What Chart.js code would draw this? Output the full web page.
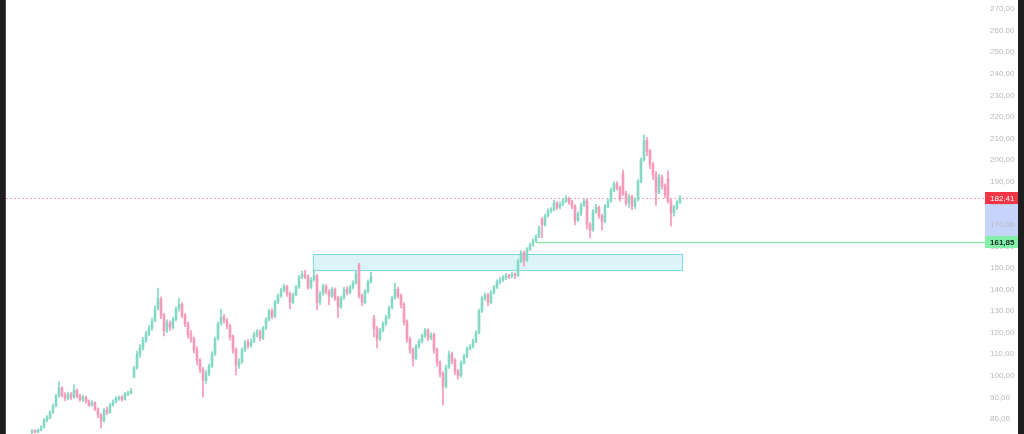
<!DOCTYPE html>
<html>
<head>
<meta charset="utf-8">
<script src="https://cdn.jsdelivr.net/npm/chart.js@4.4.0/dist/chart.umd.min.js"></script>
<style>
  html, body { margin:0; padding:0; background:#1e1e1e; overflow:hidden; }
  #frame { position:absolute; left:5px; top:0; width:1013px; height:434px; background:#fff; border-left:1px solid #4a4a4a; box-sizing:border-box; }
  #box { position:relative; width:1012px; height:434px; }
</style>
</head>
<body>
<div id="frame"><div id="box"><canvas id="chart"></canvas></div></div>
<script>
// candles (one per ~3px)
const opens = [
  73.8, 74.6, 74.0, 74.9, 76.2, 79.3, 80.6, 83.2, 86.2, 90.7,
  94.3, 91.2, 89.4, 91.6, 90.1, 93.2, 90.6, 89.1, 90.1, 88.1,
  86.4, 87.6, 84.6, 81.8, 79.2, 84.2, 83.1, 86.6, 88.1, 89.4,
  90.2, 89.1, 91.4, 92.1, 99.5, 103.8, 110.2, 113.1, 116.6, 119.4,
  122.2, 125.7, 131.2, 135.5, 128.2, 121.2, 124.6, 122.4, 126.1, 131.1,
  133.2, 128.1, 124.2, 119.1, 117.2, 112.1, 107.2, 103.1, 97.8, 101.1,
  104.6, 110.1, 117.2, 124.1, 127.2, 125.6, 123.1, 118.2, 112.1, 104.8,
  106.6, 112.1, 115.6, 114.1, 116.1, 119.1, 120.6, 117.4, 122.1, 126.1,
  130.2, 127.6, 134.1, 137.1, 139.6, 141.4, 138.1, 134.1, 137.6, 141.1,
  145.6, 147.2, 146.1, 141.1, 144.6, 146.2, 134.1, 138.1, 141.6, 139.1,
  137.1, 140.1, 136.1, 132.1, 136.1, 140.1, 138.6, 141.1, 143.1, 151.5,
  137.1, 134.1, 139.1, 143.6, 126.5, 122.1, 117.1, 121.1, 124.1, 127.1,
  131.6, 136.1, 140.1, 137.1, 133.1, 125.1, 117.1, 112.1, 108.1, 113.6,
  116.1, 118.6, 121.1, 117.6, 119.1, 112.1, 106.1, 101.1, 95.1, 104.1,
  110.1, 107.1, 102.1, 100.1, 106.1, 109.1, 112.6, 113.6, 116.1, 120.1,
  130.1, 136.1, 137.6, 134.1, 138.6, 141.1, 143.6, 144.6, 145.6, 146.6,
  146.1, 147.1, 146.6, 153.1, 157.1, 153.6, 158.6, 160.6, 162.6, 164.6,
  172.5, 170.1, 174.1, 176.6, 177.1, 180.1, 178.1, 179.6, 181.1, 182.1,
  180.6, 178.6, 172.1, 175.1, 179.1, 181.1, 170.1, 167.6, 176.1, 178.1,
  174.1, 171.6, 178.6, 181.1, 186.1, 189.1, 187.1, 193.5, 184.6, 180.1,
  183.1, 178.6, 181.6, 190.1, 200.1, 209.1, 204.1, 198.1, 193.1, 185.1,
  192.1, 188.1, 191.5, 181.1, 175.6, 178.1, 180.6
];
const highs = [
  75.2, 75.0, 75.3, 76.8, 80.2, 81.6, 83.8, 86.9, 91.4, 97.2,
  95.0, 92.3, 92.5, 92.2, 96.0, 94.0, 91.5, 91.0, 90.6, 88.9,
  88.5, 88.0, 85.2, 82.5, 85.0, 85.5, 87.4, 88.9, 90.4, 90.8,
  90.9, 92.4, 93.0, 94.2, 104.5, 111.5, 114.5, 117.8, 120.8, 123.4,
  126.8, 132.4, 140.7, 136.5, 129.0, 126.0, 125.5, 127.2, 132.0, 136.0,
  134.0, 129.0, 125.0, 121.0, 118.0, 113.5, 108.0, 104.0, 102.5, 105.5,
  111.2, 118.0, 125.0, 131.0, 128.5, 126.5, 124.0, 119.0, 113.0, 108.0,
  113.0, 116.5, 116.8, 117.0, 120.2, 121.5, 121.2, 123.0, 127.0, 131.0,
  131.2, 135.0, 138.0, 140.6, 142.5, 142.0, 138.8, 138.5, 142.0, 146.6,
  148.5, 149.0, 146.8, 145.6, 149.1, 147.0, 139.0, 142.5, 142.3, 140.0,
  141.0, 140.8, 136.8, 137.0, 141.0, 141.2, 142.0, 144.0, 148.5, 152.3,
  138.0, 140.0, 144.5, 148.0, 128.0, 123.0, 122.0, 125.0, 128.0, 132.5,
  137.0, 143.0, 141.0, 138.0, 134.0, 126.0, 118.0, 113.0, 114.5, 117.0,
  119.5, 122.0, 121.8, 120.0, 119.8, 113.0, 107.0, 102.0, 105.0, 111.5,
  111.0, 108.0, 103.0, 107.0, 110.0, 113.5, 114.5, 117.0, 121.0, 131.0,
  137.0, 138.5, 138.2, 139.5, 142.0, 144.5, 145.5, 146.5, 147.5, 147.2,
  148.0, 147.8, 154.0, 158.0, 157.8, 159.5, 161.5, 163.5, 165.5, 169.5,
  173.5, 175.0, 177.5, 178.0, 181.5, 180.8, 180.5, 182.0, 183.5, 182.8,
  181.5, 179.4, 176.0, 180.0, 182.0, 181.8, 171.0, 177.0, 179.5, 178.8,
  175.0, 179.5, 182.0, 187.0, 190.0, 190.0, 188.0, 195.4, 185.5, 184.0,
  183.8, 182.5, 191.0, 201.0, 211.6, 210.5, 205.0, 199.0, 194.5, 193.5,
  193.0, 189.0, 195.0, 182.0, 179.0, 181.5, 183.5
];
const lows = [
  73.2, 73.5, 73.6, 74.5, 75.8, 78.6, 80.0, 82.5, 85.6, 90.0,
  90.2, 88.5, 88.8, 89.0, 89.6, 89.8, 88.2, 88.0, 87.2, 85.8,
  85.9, 83.8, 80.5, 75.8, 78.5, 82.0, 82.6, 85.9, 87.5, 88.6,
  88.3, 88.7, 90.8, 91.5, 99.0, 103.0, 108.5, 112.0, 115.5, 118.5,
  121.0, 125.0, 130.5, 126.5, 118.5, 120.0, 121.0, 121.8, 125.5, 130.0,
  127.0, 122.8, 117.5, 115.5, 110.5, 105.0, 101.5, 90.2, 96.5, 100.0,
  103.8, 109.5, 116.5, 123.5, 124.5, 121.8, 116.5, 110.5, 100.4, 103.5,
  105.8, 111.2, 112.8, 113.2, 115.4, 118.0, 116.2, 116.8, 121.3, 125.4,
  126.5, 127.0, 133.4, 136.4, 138.8, 136.8, 131.0, 133.4, 137.0, 140.5,
  145.0, 145.0, 140.0, 140.4, 143.9, 130.5, 133.0, 137.4, 138.0, 133.0,
  136.2, 135.0, 127.0, 131.2, 135.4, 137.5, 137.8, 140.3, 142.5, 136.0,
  132.5, 133.4, 138.4, 143.0, 118.0, 113.0, 116.3, 120.4, 123.4, 126.4,
  131.0, 135.5, 136.0, 131.5, 123.5, 115.5, 110.5, 104.6, 107.4, 112.8,
  115.3, 117.8, 116.3, 116.8, 110.5, 104.5, 99.5, 86.5, 94.3, 103.4,
  105.5, 100.5, 98.5, 99.4, 105.4, 108.4, 111.9, 112.9, 115.4, 119.4,
  129.4, 135.0, 132.5, 133.4, 137.9, 140.4, 142.5, 143.5, 144.5, 145.0,
  145.4, 145.0, 146.0, 152.4, 151.0, 153.0, 158.0, 160.0, 162.0, 164.0,
  164.0, 169.4, 173.4, 175.5, 176.4, 177.0, 177.4, 178.9, 180.4, 179.5,
  177.5, 170.0, 171.4, 174.4, 178.4, 168.0, 163.9, 166.9, 175.4, 173.0,
  167.5, 170.9, 177.9, 180.4, 185.4, 186.0, 181.0, 183.5, 179.0, 178.0,
  177.0, 177.5, 181.0, 189.4, 199.4, 202.0, 196.0, 191.0, 179.0, 184.4,
  186.5, 182.5, 180.0, 169.4, 174.0, 177.0, 179.8
];
const closes = [
  74.5, 74.0, 74.8, 76.0, 79.5, 80.8, 83.0, 86.0, 90.5, 94.5,
  91.0, 89.5, 91.5, 90.0, 93.5, 90.5, 89.0, 90.0, 88.0, 86.5,
  87.5, 84.5, 82.0, 79.0, 84.0, 83.0, 86.5, 88.0, 89.5, 90.0,
  89.0, 91.5, 92.0, 93.0, 103.5, 110.0, 113.0, 116.5, 119.5, 122.0,
  125.5, 131.0, 136.0, 128.0, 121.0, 124.5, 122.5, 126.0, 131.0, 133.0,
  128.0, 124.0, 119.0, 117.0, 112.0, 107.0, 103.0, 98.0, 101.0, 104.5,
  110.0, 117.0, 124.0, 127.0, 125.5, 123.0, 118.0, 112.0, 105.0, 106.5,
  112.0, 115.5, 114.0, 116.0, 119.0, 120.5, 117.5, 122.0, 126.0, 130.0,
  127.5, 134.0, 137.0, 139.5, 141.5, 138.0, 134.0, 137.5, 141.0, 145.5,
  147.0, 146.0, 141.0, 144.5, 146.5, 134.0, 138.0, 141.5, 139.0, 137.0,
  140.0, 136.0, 132.0, 136.0, 140.0, 138.5, 141.0, 143.0, 147.5, 137.0,
  134.0, 139.0, 143.5, 146.0, 122.0, 117.0, 121.0, 124.0, 127.0, 131.5,
  136.0, 140.0, 137.0, 133.0, 125.0, 117.0, 112.0, 108.0, 113.5, 116.0,
  118.5, 121.0, 117.5, 119.0, 112.0, 106.0, 101.0, 95.0, 104.0, 110.0,
  107.0, 102.0, 100.0, 106.0, 109.0, 112.5, 113.5, 116.0, 120.0, 130.0,
  136.0, 137.5, 134.0, 138.5, 141.0, 143.5, 144.5, 145.5, 146.5, 146.0,
  147.0, 146.5, 153.0, 157.0, 153.5, 158.5, 160.5, 162.5, 164.5, 168.5,
  170.0, 174.0, 176.5, 177.0, 180.0, 178.0, 179.5, 181.0, 182.0, 180.5,
  178.5, 172.0, 175.0, 179.0, 181.0, 170.0, 167.5, 176.0, 178.0, 174.0,
  171.5, 178.5, 181.0, 186.0, 189.0, 187.0, 182.0, 184.5, 180.0, 183.0,
  178.5, 181.5, 190.0, 200.0, 209.0, 204.0, 198.0, 193.0, 185.0, 192.0,
  188.0, 184.0, 181.0, 175.5, 178.0, 180.5, 182.41
];

const tickValues = [80, 90, 100, 110, 120, 130, 140, 150, 160, 170, 180, 190, 200, 210, 220, 230, 240, 250, 260, 270];
const lastPrice = 182.41;
const supportPrice = 161.85;
const supportFrom = 168;
const zoneTop = 156.5, zoneBottom = 149.1;
const zoneFrom = 93.7, zoneTo = 216.7;

const upColor = '#84d8c6';
const downColor = '#f59ab8';
const fmt = v => v.toFixed(2).replace('.', ',');

const bodies = closes.map((c, i) => ({x: i, y: [opens[i], c]}));
const wicks = closes.map((c, i) => ({x: i, y: [lows[i], highs[i]]}));
const candleColor = ctx => closes[ctx.dataIndex] >= opens[ctx.dataIndex] ? upColor : downColor;

const overlay = {
  id: 'overlay',
  beforeDraw(chart) {
    const {ctx, chartArea} = chart;
    const y = chart.scales.y;
    const top = y.getPixelForValue(lastPrice), bot = y.getPixelForValue(supportPrice);
    ctx.save();
    ctx.fillStyle = '#c6d4fb';
    ctx.fillRect(chartArea.right, top, chart.width - chartArea.right, bot - top);
    ctx.restore();
  },
  beforeDatasetsDraw(chart) {
    const {ctx, chartArea} = chart;
    const x = chart.scales.x, y = chart.scales.y;
    ctx.save();
    // zone
    const zx1 = x.getPixelForValue(zoneFrom), zx2 = x.getPixelForValue(zoneTo);
    const zy1 = y.getPixelForValue(zoneTop), zy2 = y.getPixelForValue(zoneBottom);
    ctx.fillStyle = '#dcf4f8';
    ctx.fillRect(zx1, zy1, zx2 - zx1, zy2 - zy1);
    ctx.strokeStyle = '#7fd9e6';
    ctx.lineWidth = 1;
    ctx.strokeRect(Math.round(zx1) + 0.5, Math.round(zy1) + 0.5, Math.round(zx2 - zx1), Math.round(zy2 - zy1));
    // last price line
    const ly = Math.round(y.getPixelForValue(lastPrice)) + 0.5;
    ctx.strokeStyle = 'rgba(242,54,69,0.45)';
    ctx.setLineDash([2, 2]);
    ctx.beginPath();
    ctx.moveTo(chartArea.left, ly);
    ctx.lineTo(chartArea.right, ly);
    ctx.stroke();
    // support line
    ctx.setLineDash([]);
    const sy = y.getPixelForValue(supportPrice);
    ctx.strokeStyle = '#93e9b1';
    ctx.lineWidth = 1.5;
    ctx.beginPath();
    ctx.moveTo(x.getPixelForValue(supportFrom), sy);
    ctx.lineTo(chartArea.right, sy);
    ctx.stroke();
    ctx.restore();
  },
  afterDraw(chart) {
    const {ctx, chartArea} = chart;
    const y = chart.scales.y;
    const w = chart.width - chartArea.right;
    const tag = (value, bg, fg) => {
      const py = y.getPixelForValue(value);
      ctx.fillStyle = bg;
      ctx.fillRect(chartArea.right, Math.round(py) - 6, w, 12);
      ctx.fillStyle = fg;
      ctx.textBaseline = 'middle';
      ctx.textAlign = 'left';
      ctx.fillText(fmt(value), chartArea.right + 5, py + 0.5);
    };
    ctx.save();
    ctx.font = '8px "Liberation Sans", Arial, sans-serif';
    tag(lastPrice, '#f23645', '#ffffff');
    ctx.font = 'bold 8px "Liberation Sans", Arial, sans-serif';
    tag(supportPrice, '#82f0a8', '#1b2a22');
    ctx.restore();
  }
};

new Chart(document.getElementById('chart'), {
  type: 'bar',
  data: {
    datasets: [
      {data: wicks, backgroundColor: candleColor, barThickness: 1, grouped: false, order: 2},
      {data: bodies, backgroundColor: candleColor, barThickness: 2, grouped: false, minBarLength: 1, order: 1}
    ]
  },
  options: {
    animation: false,
    responsive: true,
    maintainAspectRatio: false,
    layout: {padding: 0},
    plugins: {legend: {display: false}, tooltip: {enabled: false}},
    scales: {
      x: {type: 'linear', display: false, min: -8.667, max: 317.67, offset: false},
      y: {
        position: 'right',
        min: 73.06,
        max: 274.17,
        grid: {display: false, drawTicks: false},
        border: {display: false},
        afterBuildTicks: s => { s.ticks = tickValues.map(v => ({value: v})); },
        afterFit: s => { s.width = 33; s.paddingTop = 0; s.paddingBottom = 0; },
        ticks: {
          color: '#b9b9b9',
          padding: 5,
          font: {family: '"Liberation Sans", Arial, sans-serif', size: 8},
          callback: v => fmt(v)
        }
      }
    }
  },
  plugins: [overlay]
});
</script>
</body>
</html>
